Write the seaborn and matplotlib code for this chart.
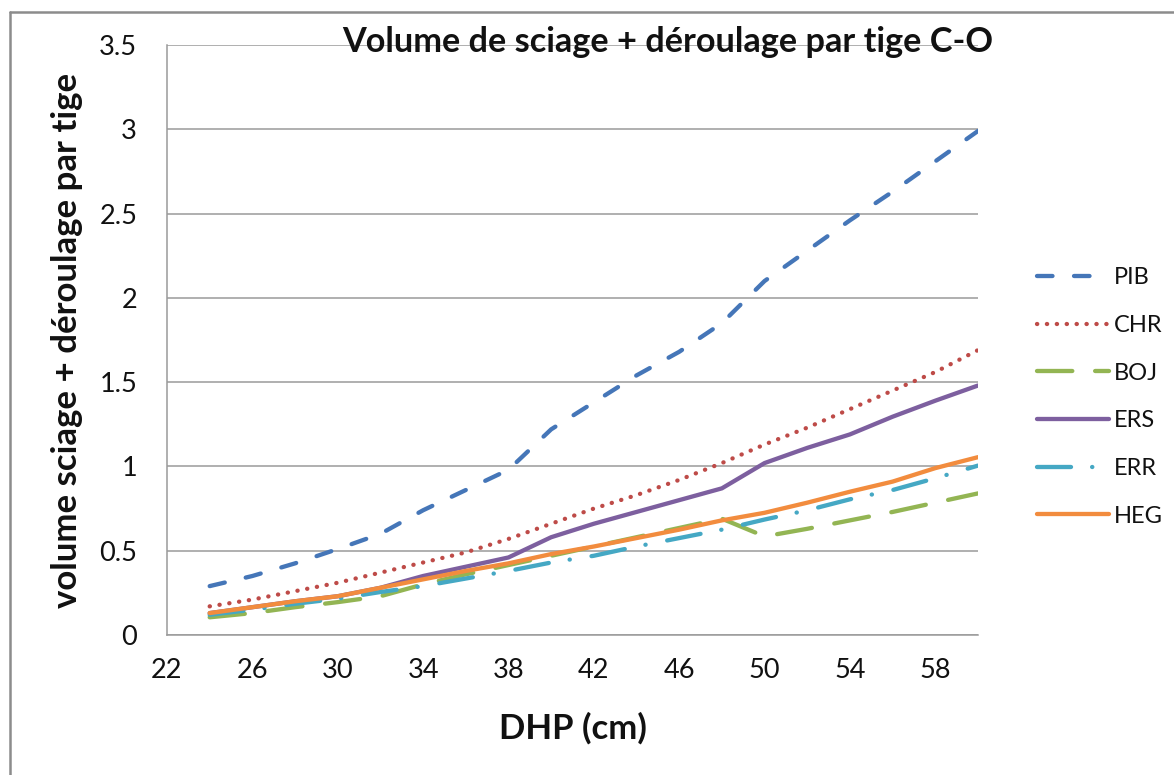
import matplotlib
matplotlib.use("Agg")
import matplotlib.pyplot as plt
import seaborn as sns
import pandas as pd
from matplotlib.lines import Line2D
from matplotlib.ticker import FuncFormatter

# ---- data ----
dhp = [24, 26, 28, 30, 32, 34, 36, 38, 40, 42, 44, 46, 48, 50, 52, 54, 56, 58, 60]
PIB = [0.29, 0.35, 0.425, 0.51, 0.60, 0.74, 0.86, 0.98, 1.22, 1.38, 1.54, 1.68, 1.85, 2.10, 2.28, 2.46, 2.63, 2.81, 2.99]
CHR = [0.17, 0.21, 0.26, 0.31, 0.37, 0.43, 0.49, 0.57, 0.66, 0.75, 0.83, 0.92, 1.02, 1.13, 1.23, 1.34, 1.45, 1.56, 1.69]
BOJ = [0.105, 0.13, 0.165, 0.195, 0.23, 0.30, 0.36, 0.415, 0.47, 0.525, 0.58, 0.635, 0.69, 0.585, 0.63, 0.68, 0.73, 0.785, 0.84]
ERS = [0.13, 0.165, 0.20, 0.23, 0.28, 0.35, 0.405, 0.46, 0.58, 0.66, 0.73, 0.80, 0.87, 1.02, 1.11, 1.19, 1.295, 1.39, 1.48]
ERR = [0.12, 0.15, 0.185, 0.215, 0.255, 0.29, 0.335, 0.38, 0.43, 0.47, 0.525, 0.575, 0.625, 0.685, 0.74, 0.805, 0.86, 0.93, 1.005]
HEG = [0.13, 0.165, 0.20, 0.23, 0.28, 0.33, 0.38, 0.425, 0.48, 0.525, 0.575, 0.625, 0.68, 0.725, 0.785, 0.85, 0.91, 0.99, 1.055]

series_names = ["PIB", "CHR", "BOJ", "ERS", "ERR", "HEG"]
series_values = [PIB, CHR, BOJ, ERS, ERR, HEG]
x_ticks = [22, 26, 30, 34, 38, 42, 46, 50, 54, 58]
y_ticks = [0, 0.5, 1, 1.5, 2, 2.5, 3, 3.5]

title = "Volume de sciage + déroulage par tige C-O"
xlabel = "DHP (cm)"
ylabel = "volume sciage + déroulage par tige"

# ---- styles ----
colors = {"PIB": "#4576B8", "CHR": "#BE4B48", "BOJ": "#93B553",
          "ERS": "#7D5F9F", "ERR": "#45A8C4", "HEG": "#F28C3E"}
styles = {"PIB": (0, (3.6, 5.0)),
          "CHR": (0, (0.05, 2.25)),
          "BOJ": (0, (8.2, 5.3)),
          "ERS": "-",
          "ERR": (0, (7.9, 4.9, 0.05, 5.1)),
          "HEG": "-"}

df = pd.DataFrame({"DHP": dhp})
for n, v in zip(series_names, series_values):
    df[n] = v
long = df.melt(id_vars="DHP", var_name="Espece", value_name="Volume")

sns.set_theme(style="white")
plt.rcParams["font.family"] = ["Lato", "DejaVu Sans"]

W, H = 1174, 775
fig = plt.figure(figsize=(W / 100, H / 100), dpi=100)
ax = fig.add_axes([167 / W, 1 - 635 / H, (978 - 167) / W, (635 - 45) / H])

LW = 3.1
for n in series_names:
    sub = long[long["Espece"] == n]
    sns.lineplot(data=sub, x="DHP", y="Volume", ax=ax, color=colors[n],
                 linewidth=LW, linestyle=styles[n], dash_capstyle="round",
                 solid_capstyle="round", solid_joinstyle="round", legend=False,
                 zorder=3)

ax.set_xlim(22, 60)
ax.set_ylim(0, 3.5)
ax.set_xticks(x_ticks)
ax.set_yticks(y_ticks)
ax.yaxis.set_major_formatter(FuncFormatter(lambda v, p: f"{v:g}"))

grid_c = "#9a9a9a"
ax.grid(axis="y", color=grid_c, linewidth=1.1, zorder=0)
ax.grid(axis="x", visible=False)
for s in ["top", "right"]:
    ax.spines[s].set_visible(False)
for s in ["left", "bottom"]:
    ax.spines[s].set_color(grid_c)
    ax.spines[s].set_linewidth(1.1)
ax.tick_params(axis="both", which="major", direction="out", length=7.5,
               width=1.1, color=grid_c, labelsize=19.5, labelcolor="#111111")
ax.tick_params(axis="y", pad=14)
ax.tick_params(axis="x", pad=9)

ax.set_xlabel(xlabel, fontsize=25, fontweight="bold", color="#111111", va="center")
ax.xaxis.set_label_coords(0.5, -(728 - 635) / 590)
ax.set_ylabel(ylabel, fontsize=25, fontweight="bold", color="#111111", va="center")
ax.yaxis.set_label_coords(-(167 - 67) / 811, 0.5)

fig.text(668 / W, 1 - 42 / H, title, fontsize=24.7, fontweight="bold",
         color="#111111", ha="center", va="center", zorder=5)

handles = [Line2D([0], [0], color=colors[n], lw=LW, linestyle=styles[n],
                  dash_capstyle="round", solid_capstyle="round")
           for n in series_names]
fs_leg = 17
ax.legend(handles, series_names, loc="center left",
          bbox_to_anchor=(1037 / W, 1 - 397 / H), bbox_transform=fig.transFigure,
          frameon=False, fontsize=fs_leg, handlelength=72 / (fs_leg * 1.389),
          handletextpad=0.22, labelspacing=1.13, borderpad=0, borderaxespad=0,
          labelcolor="#111111")

# chart area border
bc = "#8c8c8c"
fig.add_artist(Line2D([10 / W, 10 / W], [0, 1 - 12 / H], color=bc, lw=1.8,
                      transform=fig.transFigure))
fig.add_artist(Line2D([10 / W, 1], [1 - 12 / H, 1 - 12 / H], color=bc, lw=1.8,
                      transform=fig.transFigure))

fig.savefig("out.png", dpi=100, facecolor="white")
